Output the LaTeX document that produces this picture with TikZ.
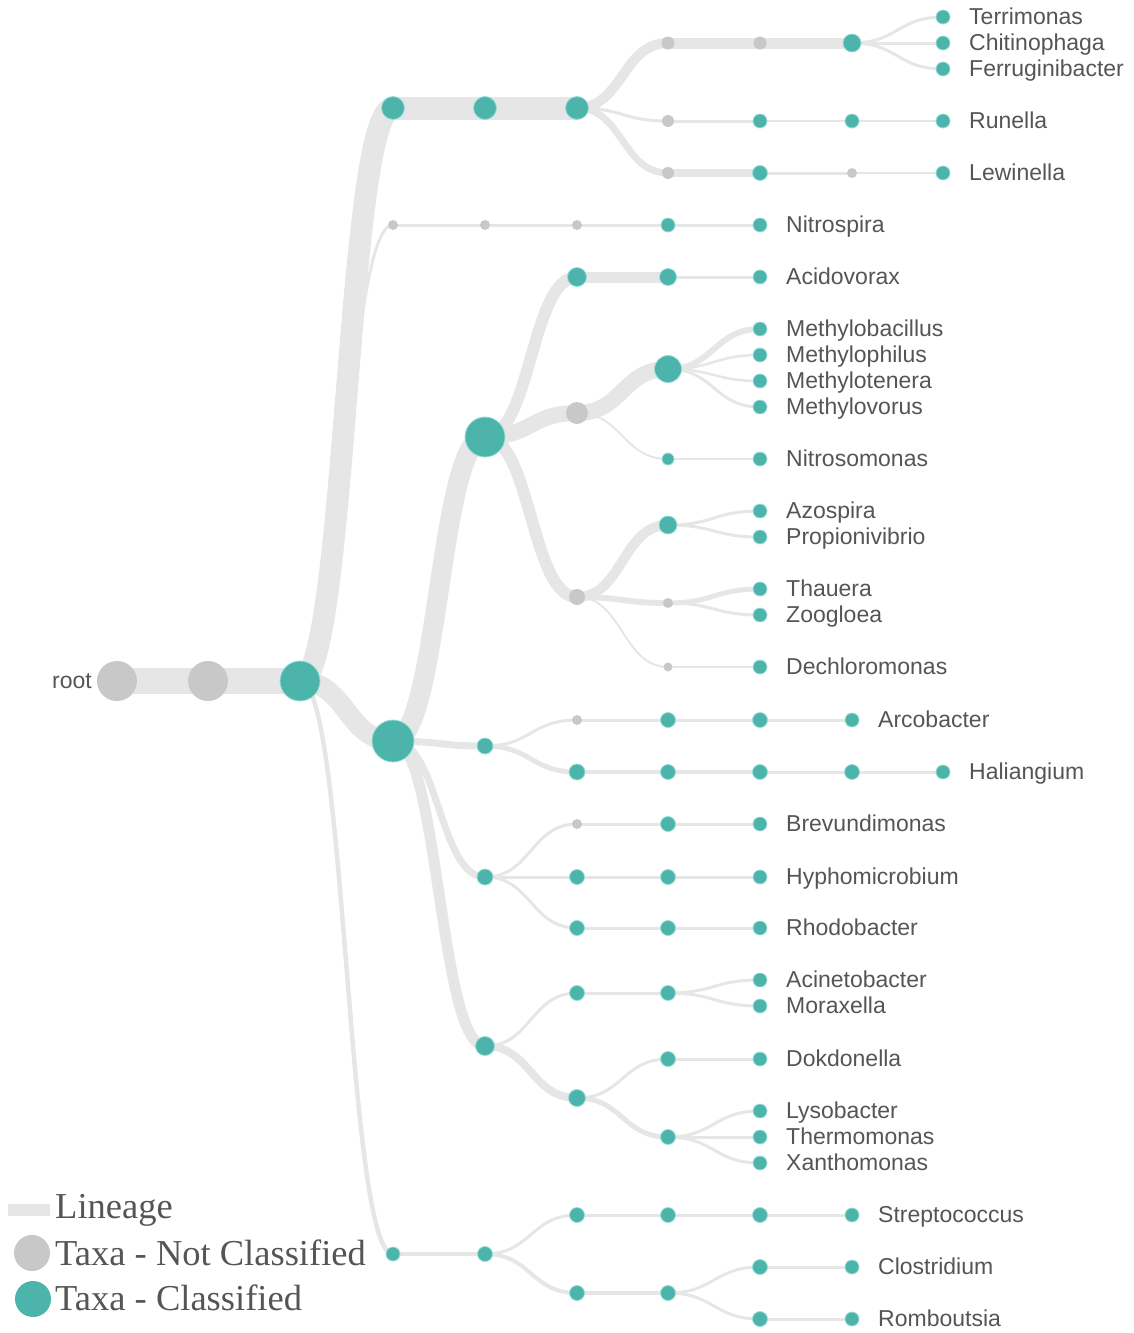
\documentclass[tikz,border=0pt]{standalone}
\usepackage{fontspec}
\setmainfont{Liberation Serif}
\setsansfont{Liberation Sans}
\usetikzlibrary{calc,backgrounds}
\definecolor{tealc}{RGB}{76,180,170}
\definecolor{tealring}{RGB}{150,222,215}
\definecolor{grayc}{RGB}{200,200,200}
\definecolor{linkc}{RGB}{230,230,230}
\definecolor{txtc}{RGB}{85,85,85}
\tikzset{
  tc/.style={circle,fill=tealc,draw=tealring,line width=0.8pt,inner sep=0pt,minimum size=2*#1 pt},
  nc/.style={circle,fill=grayc,inner sep=0pt,minimum size=2*#1 pt},
  lnk/.style={draw=linkc},
  lab/.style={anchor=mid west,inner sep=0pt,font=\sffamily\fontsize{23}{26}\selectfont,text=txtc},
  leg/.style={anchor=base west,inner sep=0pt,font=\rmfamily\fontsize{36.5}{38}\selectfont,text=txtc}
}
\newcommand\lk[3]{\draw[lnk,line width=#1pt] let \p1=(#2.center),\p2=(#3.center),\n1={0.5*\x1+0.5*\x2} in (\p1) .. controls ({\n1*1pt},\y1) and ({\n1*1pt},\y2) .. (\p2);}
\newcommand\leaf[4]{\node[tc=7] (#1) at (#2,#3) {}; \node[lab] (l#1) at ([xshift=26pt,yshift=-5pt]#1.center) {#4};}
\begin{document}
\begin{tikzpicture}[x=1pt,y=-1pt]
\useasboundingbox (0,0) rectangle (1134,1333);
% nodes
\node[nc=20] (r0) at (117,681) {};
\node[anchor=mid east,inner sep=0pt,font=\sffamily\fontsize{23}{26}\selectfont,text=txtc] (lroot) at ([xshift=-25pt,yshift=-5pt]r0.center) {root};
\node[nc=20] (r1) at (208,681) {};
\node[tc=20] (r2) at (300,681) {};
% A branch
\node[tc=11.5] (a1) at (393,108) {};
\node[tc=11.5] (a2) at (485,108) {};
\node[tc=11.5] (a3) at (577,108) {};
\node[nc=6.5] (a4) at (668,43) {};
\node[nc=6.5] (a5) at (760,43) {};
\node[tc=9] (a6) at (852,43) {};
\leaf{terr}{943}{17}{Terrimonas}
\leaf{chit}{943}{43}{Chitinophaga}
\leaf{ferr}{943}{69}{Ferruginibacter}
\node[nc=6] (b4) at (668,121) {};
\node[tc=7] (b5) at (760,121) {};
\node[tc=7] (b6) at (852,121) {};
\leaf{run}{943}{121}{Runella}
\node[nc=6] (c4) at (668,173) {};
\node[tc=7.5] (c5) at (760,173) {};
\node[nc=5] (c6) at (852,173) {};
\leaf{lew}{943}{173}{Lewinella}
% B branch
\node[nc=5] (n1) at (393,225) {};
\node[nc=5] (n2) at (485,225) {};
\node[nc=5] (n3) at (577,225) {};
\node[tc=7] (n4) at (668,225) {};
\leaf{nit}{760}{225}{Nitrospira}
% C branch
\node[tc=21] (p1) at (393,741) {};
\node[tc=20] (q1) at (485,437) {};
\node[tc=9.5] (q2) at (577,277) {};
\node[tc=8.5] (q3) at (668,277) {};
\leaf{acid}{760}{277}{Acidovorax}
\node[nc=11] (q4) at (577,413) {};
\node[tc=13.5] (q5) at (668,369) {};
\leaf{mb}{760}{329}{Methylobacillus}
\leaf{mp}{760}{355}{Methylophilus}
\leaf{mt}{760}{381}{Methylotenera}
\leaf{mv}{760}{407}{Methylovorus}
\node[tc=6] (q6) at (668,459) {};
\leaf{nso}{760}{459}{Nitrosomonas}
\node[nc=8] (q7) at (577,597) {};
\node[tc=9] (q8) at (668,525) {};
\leaf{azo}{760}{511}{Azospira}
\leaf{pro}{760}{537}{Propionivibrio}
\node[nc=5] (q9) at (668,603) {};
\leaf{tha}{760}{589}{Thauera}
\leaf{zoo}{760}{615}{Zoogloea}
\node[nc=4.5] (q10) at (668,667) {};
\leaf{dec}{760}{667}{Dechloromonas}
\node[tc=8] (s1) at (485,746) {};
\node[nc=5] (s2) at (577,720) {};
\node[tc=7.5] (s3) at (668,720) {};
\node[tc=7.5] (s4) at (760,720) {};
\leaf{arc}{852}{720}{Arcobacter}
\node[tc=8] (s5) at (577,772) {};
\node[tc=7.5] (s6) at (668,772) {};
\node[tc=7.5] (s7) at (760,772) {};
\node[tc=7.5] (s8) at (852,772) {};
\leaf{hal}{943}{772}{Haliangium}
\node[tc=8] (t1) at (485,877) {};
\node[nc=5] (t2) at (577,824) {};
\node[tc=7.5] (t3) at (668,824) {};
\leaf{bre}{760}{824}{Brevundimonas}
\node[tc=7.5] (t4) at (577,877) {};
\node[tc=7.5] (t5) at (668,877) {};
\leaf{hyp}{760}{877}{Hyphomicrobium}
\node[tc=7.5] (t6) at (577,928) {};
\node[tc=7.5] (t7) at (668,928) {};
\leaf{rho}{760}{928}{Rhodobacter}
\node[tc=9.5] (u1) at (485,1046) {};
\node[tc=7.5] (u2) at (577,993) {};
\node[tc=7.5] (u3) at (668,993) {};
\leaf{aci}{760}{980}{Acinetobacter}
\leaf{mor}{760}{1006}{Moraxella}
\node[tc=8.5] (u4) at (577,1098) {};
\node[tc=7.5] (u5) at (668,1059) {};
\leaf{dok}{760}{1059}{Dokdonella}
\node[tc=7.5] (u6) at (668,1137) {};
\leaf{lys}{760}{1111}{Lysobacter}
\leaf{the}{760}{1137}{Thermomonas}
\leaf{xan}{760}{1163}{Xanthomonas}
% D branch
\node[tc=7] (v1) at (393,1254) {};
\node[tc=7.5] (v2) at (485,1254) {};
\node[tc=7.5] (v3) at (577,1215) {};
\node[tc=7.5] (v4) at (668,1215) {};
\node[tc=7.5] (v5) at (760,1215) {};
\leaf{str}{852}{1215}{Streptococcus}
\node[tc=7.5] (v6) at (577,1293) {};
\node[tc=7.5] (v7) at (668,1293) {};
\node[tc=7.5] (v8) at (760,1267) {};
\leaf{clo}{852}{1267}{Clostridium}
\node[tc=7.5] (v9) at (760,1319) {};
\leaf{rom}{852}{1319}{Romboutsia}
% legend
\node[fill=linkc,inner sep=0pt,minimum width=42pt,minimum height=12pt] (legl) at (29,1210) {};
\node[leg] (legltxt) at (55,1218) {Lineage};
\node[circle,fill=grayc,inner sep=0pt,minimum size=36pt] (legn) at (32,1253) {};
\node[leg] (legntxt) at (55,1265) {Taxa - Not Classified};
\node[circle,fill=tealc,inner sep=0pt,minimum size=36pt] (legc) at (33,1299) {};
\node[leg] (legctxt) at (55,1310) {Taxa - Classified};
% links
\begin{scope}[on background layer]
\lk{26}{r0}{r1} \lk{26}{r1}{r2}
\lk{22}{r2}{a1} \lk{23}{a1}{a2} \lk{23}{a2}{a3}
\lk{10}{a3}{a4} \lk{11}{a4}{a5} \lk{11}{a5}{a6}
\lk{3}{a6}{terr} \lk{3}{a6}{chit} \lk{3}{a6}{ferr}
\lk{3}{a3}{b4} \lk{3}{b4}{b5} \lk{2.5}{b5}{b6} \lk{2.5}{b6}{run}
\lk{7}{a3}{c4} \lk{8}{c4}{c5} \lk{3}{c5}{c6} \lk{2.5}{c6}{lew}
\lk{3}{r2}{n1} \lk{3}{n1}{n2} \lk{3}{n2}{n3} \lk{3}{n3}{n4} \lk{3}{n4}{nit}
\lk{20}{r2}{p1} \lk{20}{p1}{q1}
\lk{12}{q1}{q2} \lk{11}{q2}{q3} \lk{3}{q3}{acid}
\lk{16}{q1}{q4} \lk{16}{q4}{q5}
\lk{6}{q5}{mb} \lk{2.5}{q5}{mp} \lk{2.5}{q5}{mt} \lk{3}{q5}{mv}
\lk{2}{q4}{q6} \lk{2}{q6}{nso}
\lk{12}{q1}{q7} \lk{10}{q7}{q8} \lk{3}{q8}{azo} \lk{3}{q8}{pro}
\lk{6}{q7}{q9} \lk{5}{q9}{tha} \lk{3}{q9}{zoo}
\lk{2}{q7}{q10} \lk{2}{q10}{dec}
\lk{7}{p1}{s1} \lk{3}{s1}{s2} \lk{3}{s2}{s3} \lk{3}{s3}{s4} \lk{3}{s4}{arc}
\lk{5}{s1}{s5} \lk{4}{s5}{s6} \lk{4}{s6}{s7} \lk{3}{s7}{s8} \lk{3}{s8}{hal}
\lk{7}{p1}{t1} \lk{3}{t1}{t2} \lk{3}{t2}{t3} \lk{3}{t3}{bre}
\lk{3}{t1}{t4} \lk{3}{t4}{t5} \lk{3}{t5}{hyp}
\lk{3}{t1}{t6} \lk{3}{t6}{t7} \lk{3}{t7}{rho}
\lk{11}{p1}{u1} \lk{3}{u1}{u2} \lk{3}{u2}{u3} \lk{3}{u3}{aci} \lk{3}{u3}{mor}
\lk{8}{u1}{u4} \lk{3}{u4}{u5} \lk{3}{u5}{dok}
\lk{5}{u4}{u6} \lk{3}{u6}{lys} \lk{3}{u6}{the} \lk{3}{u6}{xan}
\lk{4.5}{r2}{v1} \lk{4}{v1}{v2}
\lk{3}{v2}{v3} \lk{3}{v3}{v4} \lk{3}{v4}{v5} \lk{3}{v5}{str}
\lk{4}{v2}{v6} \lk{4}{v6}{v7} \lk{3}{v7}{v8} \lk{3}{v8}{clo} \lk{3}{v7}{v9} \lk{3}{v9}{rom}
\end{scope}
\end{tikzpicture}
\end{document}
